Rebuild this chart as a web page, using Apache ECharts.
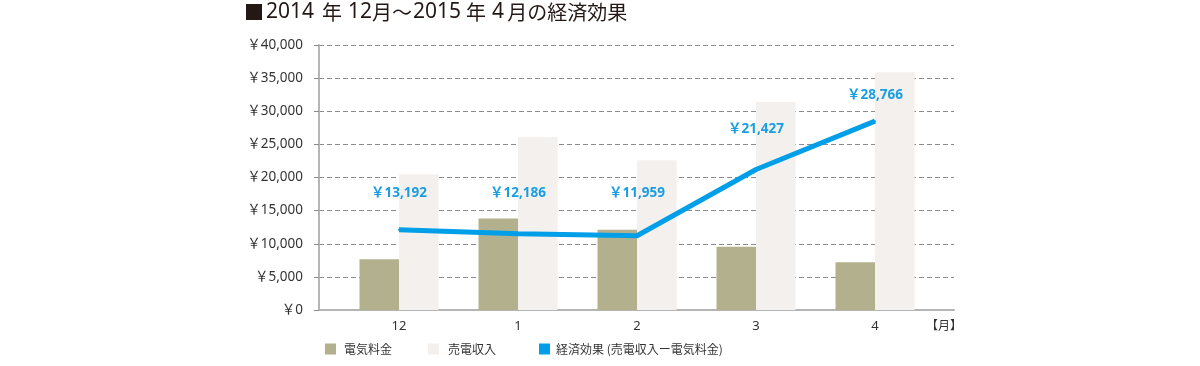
<!DOCTYPE html>
<html>
<head>
<meta charset="utf-8">
<script src="https://cdn.jsdelivr.net/npm/echarts@6/dist/echarts.min.js"></script>
<style>
html,body{margin:0;padding:0;background:#fff;}
#chart{width:1200px;height:366px;}
</style>
</head>
<body>
<div id="chart"></div>
<script>
// ---- data ----
const categories = ['12', '1', '2', '3', '4'];
const seriesNames = ['電気料金', '売電収入', '経済効果 (売電収入ー電気料金)'];
const denkiRyokin = [7650, 13800, 12100, 9550, 7200];
const baidenShunyu = [20500, 26100, 22600, 31400, 35900];
const keizaiKoka = [12100, 11500, 11200, 21200, 28500];
const keizaiLabels = ['￥13,192', '￥12,186', '￥11,959', '￥21,427', '￥28,766'];
const yMin = 0, yMax = 40000, yStep = 5000;
const titleParts = ['■', '2014', '年', '12', '月～', '2015', '年', '4', '月の経済効果'];
const unitText = '【月】';

// ---- styles ----
const CJK = '"Noto Sans CJK JP", sans-serif';
const LATIN = '"Noto Sans", "Noto Sans CJK JP", sans-serif';
const labelOffsets = [[0, -24], [0, -28], [0, -30], [0, -28], [0, -13]];
const lineColor = '#009fe8';
// gap (px) after each title part
const titleGaps = [2, 8, 6, 0, 1, 5, 6, 3, 0];

const chart = echarts.init(document.getElementById('chart'), null, {renderer: 'canvas'});

const fmtYen = v => '￥' + Number(v).toLocaleString('en-US');

const titleRich = {
  c: {fontFamily: CJK, fontSize: 20, color: '#231815'},
  d: {fontFamily: LATIN, fontSize: 21, color: '#231815'}
};
let titleStr = '';
titleParts.forEach((p, i) => {
  const isNum = /^[0-9]+$/.test(p);
  titleStr += '{' + (isNum ? 'd' : 'c') + '|' + p + '}';
  if (titleGaps[i] > 0) {
    const key = 'g' + i;
    titleRich[key] = {width: titleGaps[i], fontSize: 20};
    titleStr += '{' + key + '| }';
  }
});

const option = {
  animation: false,
  textStyle: {fontFamily: CJK},
  title: {
    text: titleStr, left: 244, top: 2, padding: 0,
    textStyle: {fontFamily: CJK, fontSize: 20, fontWeight: 'normal', color: '#231815', rich: titleRich}
  },
  legend: [
    {left: 325, top: 343, padding: 0, itemWidth: 11, itemHeight: 11, itemGap: 0, icon: 'rect', data: [seriesNames[0]],
     textStyle: {fontFamily: CJK, fontSize: 12, color: '#333', padding: [0, 0, 0, 3]}},
    {left: 428, top: 343, padding: 0, itemWidth: 11, itemHeight: 11, itemGap: 0, icon: 'rect', data: [seriesNames[1]],
     textStyle: {fontFamily: CJK, fontSize: 12, color: '#333', padding: [0, 0, 0, 4]}},
    {left: 539, top: 343, padding: 0, itemWidth: 11, itemHeight: 11, itemGap: 0, icon: 'rect', data: [seriesNames[2]],
     textStyle: {fontFamily: CJK, fontSize: 12, color: '#333', padding: [0, 0, 0, 1]}}
  ],
  grid: [
    {left: 319, right: 246, top: 45, bottom: 56},
    {left: 339.5, right: 265.5, top: 45, bottom: 56}
  ],
  xAxis: [
    {gridIndex: 0, type: 'value', min: 0, max: 1, axisLabel: {show: false}, splitLine: {show: false},
     axisTick: {show: false}, axisLine: {show: true, lineStyle: {color: '#b5b5b5', width: 2}}},
    {gridIndex: 1, type: 'category', data: categories, axisLine: {show: false}, axisTick: {show: false},
     axisLabel: {color: '#333', fontSize: 13, margin: 10, fontFamily: LATIN}}
  ],
  yAxis: [
    {gridIndex: 0, type: 'value', min: yMin, max: yMax, interval: yStep,
     axisLine: {show: true, lineStyle: {color: '#b5b5b5', width: 2}},
     axisTick: {show: true, length: 8, lineStyle: {color: '#8a8a8a', type: [5, 3]}},
     splitLine: {show: true, lineStyle: {color: '#8a8a8a', type: [5, 3], width: 1}},
     axisLabel: {formatter: fmtYen, color: '#333', fontSize: 13.5, margin: 16, fontFamily: LATIN}},
    {gridIndex: 1, type: 'value', min: yMin, max: yMax, interval: yStep, show: false}
  ],
  graphic: [
    {type: 'text', left: 926, top: 319, style: {text: unitText, fill: '#333', font: '12px ' + CJK}}
  ],
  series: [
    {name: seriesNames[0], type: 'bar', xAxisIndex: 1, yAxisIndex: 1, data: denkiRyokin,
     barWidth: 39.5, barGap: '0%', itemStyle: {color: '#b3b18d'}},
    {name: seriesNames[1], type: 'bar', xAxisIndex: 1, yAxisIndex: 1, data: baidenShunyu,
     barWidth: 39.5, barGap: '0%', itemStyle: {color: '#f4f0ed'}},
    {name: seriesNames[2], type: 'line', xAxisIndex: 1, yAxisIndex: 1,
     data: keizaiKoka.map((v, i) => ({value: v, label: {offset: labelOffsets[i]}})),
     symbol: 'circle', symbolSize: 2, itemStyle: {color: lineColor},
     lineStyle: {color: lineColor, width: 5},
     label: {show: true, position: 'top', formatter: p => keizaiLabels[p.dataIndex],
             color: '#1a9ee3', fontSize: 13.5, fontWeight: 'bold', fontFamily: LATIN}}
  ]
};
chart.setOption(option);
</script>
</body>
</html>
